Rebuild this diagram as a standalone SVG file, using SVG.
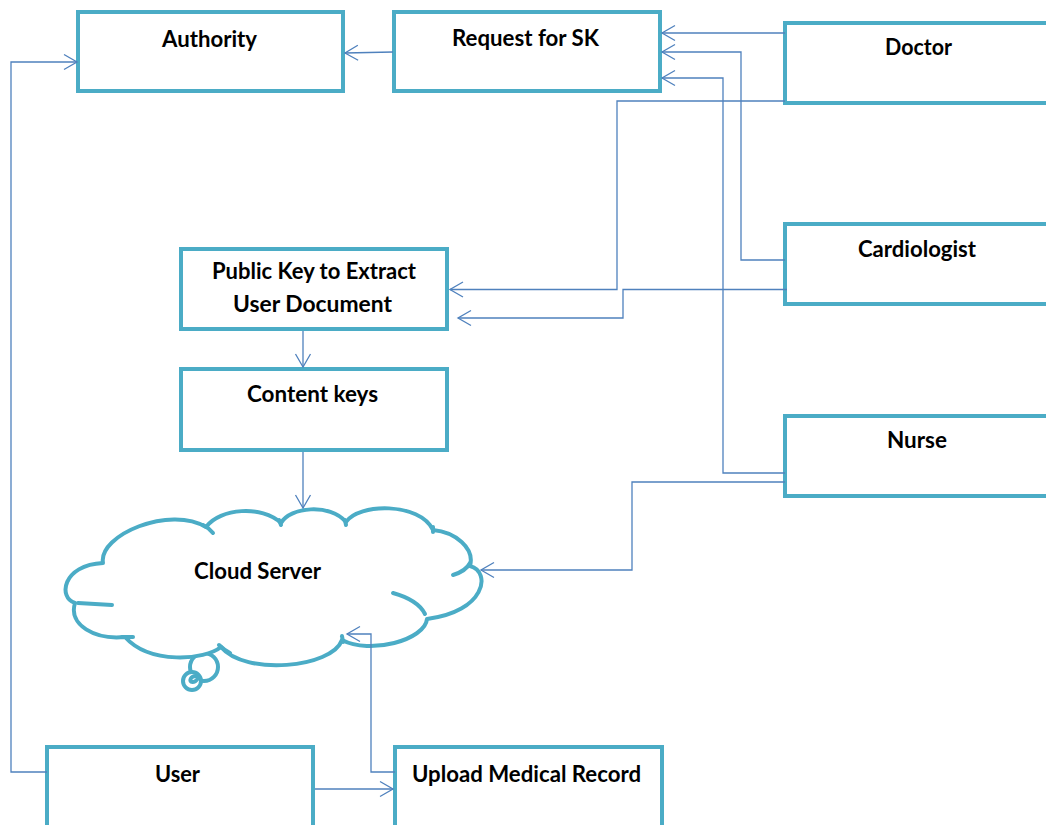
<svg xmlns="http://www.w3.org/2000/svg" width="1046" height="825" viewBox="0 0 1046 825">
  <defs>
    <marker id="open-arrow" viewBox="-15 -9 17 18" refX="0" refY="0" markerWidth="17" markerHeight="18" markerUnits="userSpaceOnUse" orient="auto" overflow="visible">
      <path d="M -13 -7.5 L 0 0 L -13 7.5" fill="none" stroke="#4f81bd" stroke-width="1.3"/>
    </marker>
  </defs>
  <style>
    .box { fill: #ffffff; stroke: #4bacc6; stroke-width: 4; }
    .label { font-family: Lato, "Liberation Sans", sans-serif; font-weight: 700; font-size: 22px; fill: #000000; }
    .wire { fill: none; stroke: #4f81bd; stroke-width: 1.3; }
    .wire.arrow { marker-end: url(#open-arrow); }
    .cloud { fill: #ffffff; stroke: #4bacc6; stroke-width: 4; stroke-linecap: round; stroke-linejoin: round; }
    .tick { fill: none; stroke: #4bacc6; stroke-width: 4; stroke-linecap: round; }
  </style>

  <rect width="1046" height="825" fill="#ffffff"/>

  <g id="authority">
    <rect class="box" x="78" y="12" width="265" height="79"/>
    <text class="label" x="162" y="47" textLength="95" lengthAdjust="spacingAndGlyphs">Authority</text>
  </g>

  <g id="request-sk">
    <rect class="box" x="394" y="12" width="266" height="79"/>
    <text class="label" x="452" y="46" textLength="147" lengthAdjust="spacingAndGlyphs">Request for SK</text>
  </g>

  <g id="doctor">
    <rect class="box" x="785" y="23" width="270" height="80"/>
    <text class="label" x="885" y="55" textLength="67" lengthAdjust="spacingAndGlyphs">Doctor</text>
  </g>

  <g id="cardiologist">
    <rect class="box" x="785" y="224" width="270" height="80"/>
    <text class="label" x="858" y="257" textLength="118" lengthAdjust="spacingAndGlyphs">Cardiologist</text>
  </g>

  <g id="nurse">
    <rect class="box" x="785" y="416" width="270" height="80"/>
    <text class="label" x="887" y="448" textLength="60" lengthAdjust="spacingAndGlyphs">Nurse</text>
  </g>

  <g id="public-key">
    <rect class="box" x="181" y="249" width="266" height="80"/>
    <text class="label" x="212" y="279" textLength="204" lengthAdjust="spacingAndGlyphs">Public Key to Extract</text>
    <text class="label" x="233" y="312" textLength="159" lengthAdjust="spacingAndGlyphs">User Document</text>
  </g>

  <g id="content-keys">
    <rect class="box" x="181" y="369" width="266" height="81"/>
    <text class="label" x="247" y="402" textLength="131" lengthAdjust="spacingAndGlyphs">Content keys</text>
  </g>

  <g id="cloud-server">
    <!-- thought bubbles under the cloud -->
    <circle class="cloud" cx="204" cy="667" r="14"/>
    <circle class="cloud" cx="192" cy="681" r="9"/>
    <ellipse class="tick" cx="194" cy="679" rx="4" ry="2.5" transform="rotate(-30 194 679)" stroke-width="2.5"/>
    <!-- cloud outline: one cubic per bump, clockwise from the lower left -->
    <path class="cloud" d="M 75 603
      C 58 598 62 565 103 563
      C 98 535 170 505 206 527
      C 220 508 262 505 281 523
      C 290 507 330 503 346 522
      C 358 503 420 502 433 530
      C 455 532 475 548 470 566
      C 492 572 485 612 427 619
      C 425 640 370 655 342 640
      C 332 668 245 676 221 647
      C 205 660 150 665 125 637
      C 95 640 68 625 75 603 Z"/>
    <!-- inner ends of the bumps -->
    <path class="tick" d="M 78 603 Q 95 604 112 605"/>
    <path class="tick" d="M 203 525 Q 209 528 213 533"/>
    <path class="tick" d="M 122 637 L 133 637"/>
    <path class="tick" d="M 279 520 Q 280 522 281 525"/>
    <path class="tick" d="M 345 520 L 346 525"/>
    <path class="tick" d="M 433 527 L 433 532"/>
    <path class="tick" d="M 470 563 Q 466 571 453 575"/>
    <path class="tick" d="M 393 593 Q 418 600 425 614"/>
    <path class="tick" d="M 342 636 L 343 642"/>
    <path class="tick" d="M 219 645 Q 224 650 230 653"/>
    <text class="label" x="194" y="579" textLength="127" lengthAdjust="spacingAndGlyphs">Cloud Server</text>
  </g>

  <g id="user">
    <rect class="box" x="47" y="747" width="266" height="100"/>
    <text class="label" x="155" y="782" textLength="45" lengthAdjust="spacingAndGlyphs">User</text>
  </g>

  <g id="upload-record">
    <rect class="box" x="395" y="747" width="267" height="100"/>
    <text class="label" x="412" y="782" textLength="229" lengthAdjust="spacingAndGlyphs">Upload Medical Record</text>
  </g>

  <!-- connectors, drawn last so the upload link shows inside the cloud -->
  <g id="connectors">
    <path class="wire arrow" d="M 393 52 L 345 53"/>
    <path class="wire arrow" d="M 47 772 L 11 772 L 11 62 L 77 62"/>
    <path class="wire arrow" d="M 785 33 L 662 33"/>
    <path class="wire arrow" d="M 785 260 L 741 260 L 741 52 L 662 52"/>
    <path class="wire arrow" d="M 785 473 L 723 473 L 723 78 L 662 78"/>
    <path class="wire arrow" d="M 785 101 L 617 101 L 617 289.5 L 450 289.5"/>
    <path class="wire arrow" d="M 787 289.5 L 623 289.5 L 623 318 L 458 318"/>
    <path class="wire arrow" d="M 303 331 L 303 367"/>
    <path class="wire arrow" d="M 303 452 L 303 508"/>
    <path class="wire arrow" d="M 785 482 L 632 482 L 632 570 L 481 570"/>
    <path class="wire arrow" d="M 395 772 L 371 772 L 371 634 L 347 634"/>
    <path class="wire arrow" d="M 315 789 L 393 789"/>
  </g>
</svg>
